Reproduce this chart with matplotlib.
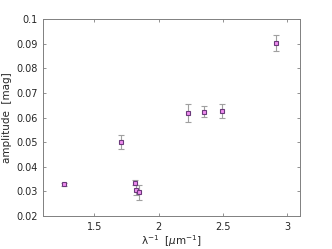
import matplotlib.pyplot as plt

inv_lambda = [1.26, 1.71, 1.815, 1.82, 1.846, 2.23, 2.354, 2.49, 2.91]
amplitude = [0.0328, 0.0500, 0.0335, 0.0307, 0.0297, 0.0617, 0.0624, 0.0628, 0.0903]
amp_err = [0.0005, 0.0028, 0.0010, 0.0020, 0.0030, 0.0037, 0.0023, 0.0028, 0.0033]

fig = plt.figure(figsize=(3.32, 2.49), dpi=100)
ax = fig.add_axes([0.1295, 0.1325, 0.7741, 0.7912])

ax.errorbar(inv_lambda, amplitude, yerr=amp_err, fmt='none',
            ecolor='#a0a0a0', elinewidth=0.8, capsize=2.5, capthick=0.8)
ax.plot(inv_lambda, amplitude, 's', ms=3.5, mfc='#f08cf0', mec='#6a3a7a', mew=0.8)

ax.set_xlim(1.1, 3.1)
ax.set_ylim(0.02, 0.1)
ax.set_xticks([1.5, 2, 2.5, 3])
ax.set_xticklabels(['1.5', '2', '2.5', '3'])
ax.set_yticks([0.02, 0.03, 0.04, 0.05, 0.06, 0.07, 0.08, 0.09, 0.1])
ax.set_yticklabels(['0.02', '0.03', '0.04', '0.05', '0.06', '0.07', '0.08', '0.09', '0.1'])
ax.tick_params(direction='in', length=2.5, width=0.6, labelsize=7, colors='#808080',
               labelcolor='#262626', top=True, right=True, pad=4)
for s in ax.spines.values():
    s.set_color('#808080')
    s.set_linewidth(0.7)

ax.set_xlabel('λ$^{-1}$  [$\\mu$m$^{-1}$]', fontsize=7.5, color='#262626', labelpad=1)
ax.set_ylabel('amplitude  [mag]', fontsize=7.5, color='#262626', labelpad=3)

fig.savefig('out.png', dpi=100)
